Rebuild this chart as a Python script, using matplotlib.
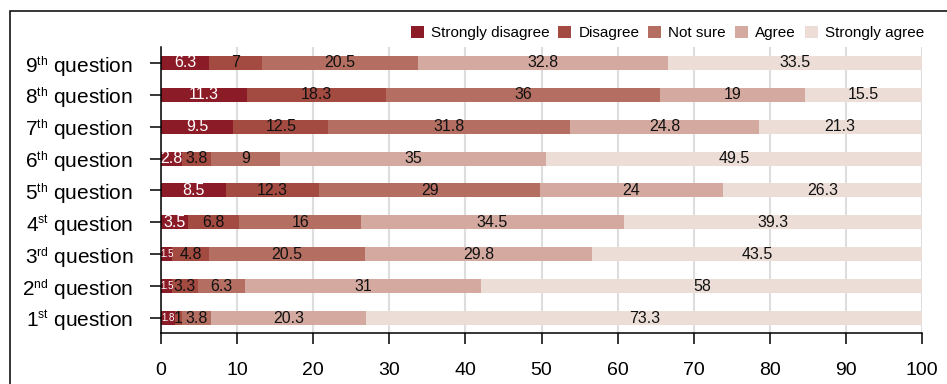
import matplotlib
matplotlib.use('Agg')
import matplotlib.pyplot as plt
import matplotlib._mathtext as mathtext_internal
from matplotlib.patches import Rectangle
import numpy as np

plt.rcParams['font.family'] = ['Liberation Sans', 'DejaVu Sans']
plt.rcParams['mathtext.fontset'] = 'custom'
plt.rcParams['mathtext.rm'] = 'Liberation Sans'
plt.rcParams['mathtext.it'] = 'Liberation Sans'
# smaller superscripts ("th", "st", ...) like the reference
mathtext_internal.SHRINK_FACTOR = 0.58

# Questions, bottom to top
questions = ['1$^{\\mathrm{st}}$ question', '2$^{\\mathrm{nd}}$ question', '3$^{\\mathrm{rd}}$ question',
             '4$^{\\mathrm{st}}$ question', '5$^{\\mathrm{th}}$ question', '6$^{\\mathrm{th}}$ question',
             '7$^{\\mathrm{th}}$ question', '8$^{\\mathrm{th}}$ question', '9$^{\\mathrm{th}}$ question']
categories = ['Strongly disagree', 'Disagree', 'Not sure', 'Agree', 'Strongly agree']

strongly_disagree = [1.8, 1.5, 1.5, 3.5, 8.5, 2.8, 9.5, 11.3, 6.3]
disagree = [1, 3.3, 4.8, 6.8, 12.3, 3.8, 12.5, 18.3, 7]
not_sure = [3.8, 6.3, 20.5, 16, 29, 9, 31.8, 36, 20.5]
agree = [20.3, 31, 29.8, 34.5, 24, 35, 24.8, 19, 32.8]
strongly_agree = [73.3, 58, 43.5, 39.3, 26.3, 49.5, 21.3, 15.5, 33.5]

colors = ['#8c1b28', '#a34a41', '#b56e62', '#d4aaa0', '#ecddd7']
x_ticks = [0, 10, 20, 30, 40, 50, 60, 70, 80, 90, 100]

fig = plt.figure(figsize=(9.47, 3.84), dpi=100)
ax = fig.add_axes([161 / 947, 1 - 333 / 384, (922 - 161) / 947, (333 - 47) / 384])

series = [strongly_disagree, disagree, not_sure, agree, strongly_agree]
y = np.arange(len(questions))
left = np.zeros(len(questions))
for i, (vals, col, name) in enumerate(zip(series, colors, categories)):
    vals = np.array(vals, dtype=float)
    ax.barh(y, vals, left=left, height=0.44, color=col, label=name, zorder=2)
    for j, v in enumerate(vals):
        cx = left[j] + v / 2
        txt_color = 'white' if i == 0 else '#111111'
        size = 7 if (i == 0 and v < 2) else 11.5
        ax.text(cx, y[j], '{:g}'.format(v), ha='center', va='center',
                color=txt_color, fontsize=size, zorder=3)
    left += vals

ax.set_xlim(0, 100)
ax.set_ylim(-0.47, 8.5)
ax.set_yticks(y)
ax.set_yticklabels(questions, fontsize=15)
ax.set_xticks(x_ticks)
ax.set_xticklabels([str(t) for t in x_ticks], fontsize=14)
ax.tick_params(axis='both', length=8, width=1.1, color='black')
ax.tick_params(axis='y', pad=12)
ax.tick_params(axis='x', pad=13)

ax.grid(axis='x', color='#dddddd', linewidth=1.5, zorder=0)
ax.set_axisbelow(True)
for s in ['top', 'right']:
    ax.spines[s].set_visible(False)
for s in ['left', 'bottom']:
    ax.spines[s].set_linewidth(1.1)

fig.legend(loc='center right', bbox_to_anchor=(924 / 947, 1 - 33 / 384), ncol=5,
           frameon=False, fontsize=11, handlelength=0.85, handleheight=0.85,
           handletextpad=0.45, columnspacing=0.6, borderaxespad=0, borderpad=0)

# outer frame
fig.add_artist(Rectangle((10 / 947, -0.1), 1.2, 1 - 11 / 384 + 0.1,
                         transform=fig.transFigure, fill=False,
                         linewidth=1.1, edgecolor='black'))

fig.savefig('out.png', dpi=100)
plt.close(fig)
